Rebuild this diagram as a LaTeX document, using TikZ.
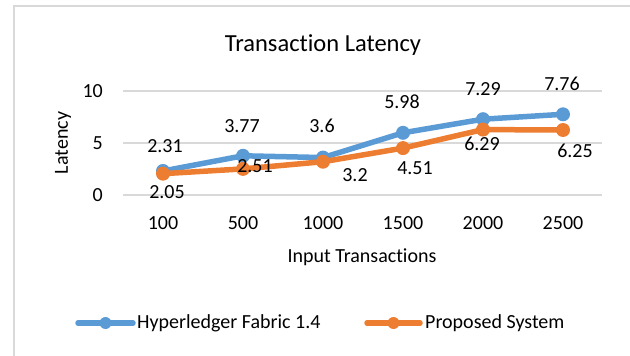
\documentclass[tikz,border=0pt]{standalone}
\usepackage{fontspec}
\setmainfont{Carlito}[Ligatures=NoCommon]
\usetikzlibrary{calc}
\definecolor{bleuHF}{HTML}{5B9BD5}
\definecolor{orangePS}{HTML}{ED7D31}
\definecolor{grille}{HTML}{D9D9D9}

\begin{document}
\begin{tikzpicture}[x=1pt,y=-1pt,
    texte/.style={font=\fontsize{20}{24}\selectfont, inner sep=0pt},
    titre/.style={font=\fontsize{24.5}{28}\selectfont, inner sep=0pt},
    courbeHF/.style={draw=bleuHF, line width=5.5pt, line join=round, line cap=round},
    courbePS/.style={draw=orangePS, line width=5.5pt, line join=round, line cap=round},
    ligne/.style={draw=grille, line width=1.5pt}]

\useasboundingbox (0,0) rectangle (630,356);

%% cadre
   \draw [ligne] (14,356) -- (14,6) -- (630,6);

%% titre
   \node [titre] (titre) at (323,45) {Transac\kern0pt tion Latency};

%% grille et axe y
\def\Yz{195}
\def\Yu{10.4}
   \draw [ligne] (123,\Yz) -- (602,\Yz);
   \draw [ligne] (123,{\Yz-5*\Yu}) -- (602,{\Yz-5*\Yu});
   \draw [ligne] (123,{\Yz-10*\Yu}) -- (602,{\Yz-10*\Yu});

   \node [texte,anchor=east] (y0) at (103,\Yz) {0};
   \node [texte,anchor=east] (y5) at (103,{\Yz-5*\Yu}) {5};
   \node [texte,anchor=east] (y10) at (103,{\Yz-10*\Yu}) {10};
   \node [texte,rotate=90] (ytitre) at (63,143) {Latency};

%% axe x
   \node [texte] (x1) at (163,223) {100};
   \node [texte] (x2) at (243,223) {500};
   \node [texte] (x3) at (323,223) {1000};
   \node [texte] (x4) at (403,223) {1500};
   \node [texte] (x5) at (483,223) {2000};
   \node [texte] (x6) at (563,223) {2500};
   \node [texte] (xtitre) at (362,257) {Input Transac\kern0pt tions};

%% serie Hyperledger
   \coordinate (hf1) at (163,{\Yz-2.31*\Yu});
   \coordinate (hf2) at (243,{\Yz-3.77*\Yu});
   \coordinate (hf3) at (323,{\Yz-3.6*\Yu});
   \coordinate (hf4) at (403,{\Yz-5.98*\Yu});
   \coordinate (hf5) at (483,{\Yz-7.29*\Yu});
   \coordinate (hf6) at (563,{\Yz-7.76*\Yu});
   \draw [courbeHF] (hf1) -- (hf2) -- (hf3) -- (hf4) -- (hf5) -- (hf6);
   \fill [bleuHF] (hf1) circle (7pt) (hf2) circle (7pt) (hf3) circle (7pt)
                  (hf4) circle (7pt) (hf5) circle (7pt) (hf6) circle (7pt);

%% serie Proposed
   \coordinate (ps1) at (163,{\Yz-2.05*\Yu});
   \coordinate (ps2) at (243,{\Yz-2.51*\Yu});
   \coordinate (ps3) at (323,{\Yz-3.2*\Yu});
   \coordinate (ps4) at (403,{\Yz-4.51*\Yu});
   \coordinate (ps5) at (483,{\Yz-6.29*\Yu});
   \coordinate (ps6) at (563,{\Yz-6.25*\Yu});
   \draw [courbePS] (ps1) -- (ps2) -- (ps3) -- (ps4) -- (ps5) -- (ps6);
   \fill [orangePS] (ps1) circle (7pt) (ps2) circle (7pt) (ps3) circle (7pt)
                    (ps4) circle (7pt) (ps5) circle (7pt) (ps6) circle (7pt);

%% etiquettes
   \node [texte] (lhf1) at (165,146) {2.31};
   \node [texte] (lhf2) at (242,126) {3.77};
   \node [texte] (lhf3) at (322,126) {3.6};
   \node [texte] (lhf4) at (402,102) {5.98};
   \node [texte] (lhf5) at (483,89) {7.29};
   \node [texte] (lhf6) at (562,84) {7.76};

   \node [texte] (lps1) at (167,192) {2.05};
   \node [texte] (lps2) at (255,166) {2.51};
   \node [texte] (lps3) at (355,175) {3.2};
   \node [texte] (lps4) at (415,168) {4.51};
   \node [texte] (lps5) at (482,144) {6.29};
   \node [texte] (lps6) at (575,151) {6.25};

%% legende
   \coordinate (legHFa) at (78,323);
   \coordinate (legHFb) at (133,323);
   \draw [courbeHF] (legHFa) -- (legHFb);
   \fill [bleuHF] ($(legHFa)!0.5!(legHFb)$) circle (6pt);
   \node [texte,anchor=west] (legHF) at (137,323) {Hyperledger Fabric 1.4};

   \coordinate (legPSa) at (367,323);
   \coordinate (legPSb) at (420,323);
   \draw [courbePS] (legPSa) -- (legPSb);
   \fill [orangePS] ($(legPSa)!0.5!(legPSb)$) circle (6pt);
   \node [texte,anchor=west] (legPS) at (425,323) {Proposed System};

\end{tikzpicture}
\end{document}
